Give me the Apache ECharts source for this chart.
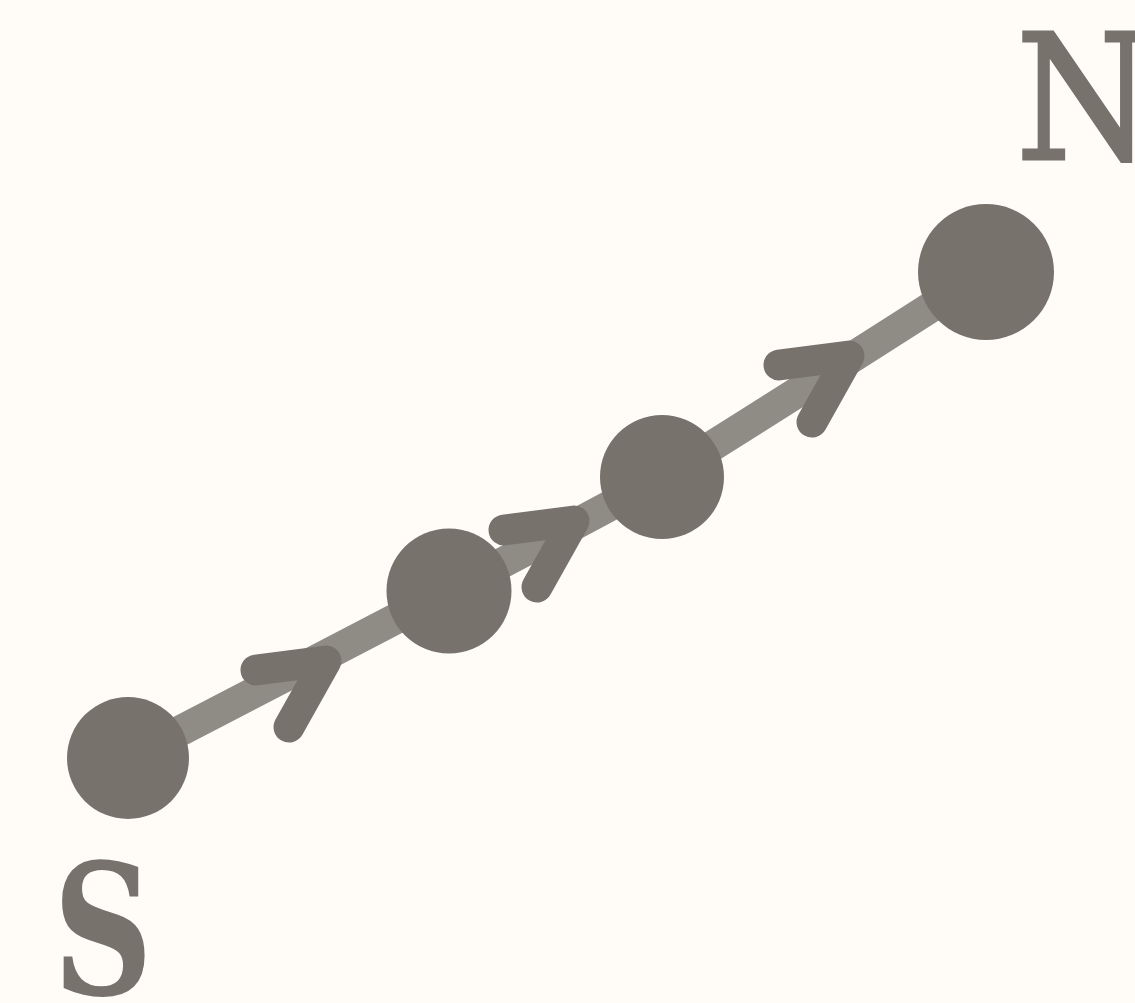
<!DOCTYPE html>
<html><head><meta charset="utf-8">
<script src="https://cdn.jsdelivr.net/npm/echarts@6/dist/echarts.min.js"></script>
<style>html,body{margin:0;padding:0;background:#fffcf7}#c{width:1135px;height:1003px}</style>
</head><body><div id="c"></div>
<script>
// stops along the path (x, y in canvas-like units, y measured upward)
var stopX = [128, 449, 662, 986];
var stopY = [245, 412, 526, 731];
var stopSize = [122, 125, 124, 136];
// arrow tips along the path
var arrowX = [326, 574, 849];
var arrowY = [342, 482, 647];
var labels = ['S', 'N'];

var chart = echarts.init(document.getElementById('c'));
var pathData = stopX.map(function (x, i) { return [x, stopY[i], stopSize[i]]; });
var arrowData = arrowX.map(function (x, i) { return [x, arrowY[i]]; });

chart.setOption({
  backgroundColor: '#fffcf7',
  animation: false,
  grid: {left: 0, right: 0, top: 0, bottom: 0},
  xAxis: {type: 'value', min: 0, max: 1135, show: false},
  yAxis: {type: 'value', min: 0, max: 1003, show: false},
  series: [
    {
      type: 'line',
      data: pathData,
      smooth: 0.15,
      lineStyle: {color: '#8f8b85', width: 31},
      symbol: 'circle',
      symbolSize: function (v) { return v[2]; },
      itemStyle: {color: '#77726b'},
      z: 2
    },
    {
      type: 'custom',
      data: arrowData,
      z: 3,
      renderItem: function (params, api) {
        var p = api.coord([api.value(0), api.value(1)]);
        return {
          type: 'polyline',
          shape: {points: [[p[0] - 70, p[1] + 9], [p[0], p[1]], [p[0] - 37, p[1] + 66]]},
          style: {stroke: '#77726b', lineWidth: 31, lineCap: 'round', lineJoin: 'round', fill: null}
        };
      }
    }
  ],
  graphic: [
    {type: 'text', x: 53, y: 856, scaleX: 0.76, style: {text: labels[0], font: 'bold 182px "DejaVu Serif"', fill: '#77726b', verticalAlign: 'top'}},
    {type: 'text', x: 1016, y: 27, scaleX: 0.9, style: {text: labels[1], font: '174px "DejaVu Serif"', fill: '#77726b', stroke: '#77726b', lineWidth: 3, verticalAlign: 'top'}}
  ]
});
</script></body></html>
